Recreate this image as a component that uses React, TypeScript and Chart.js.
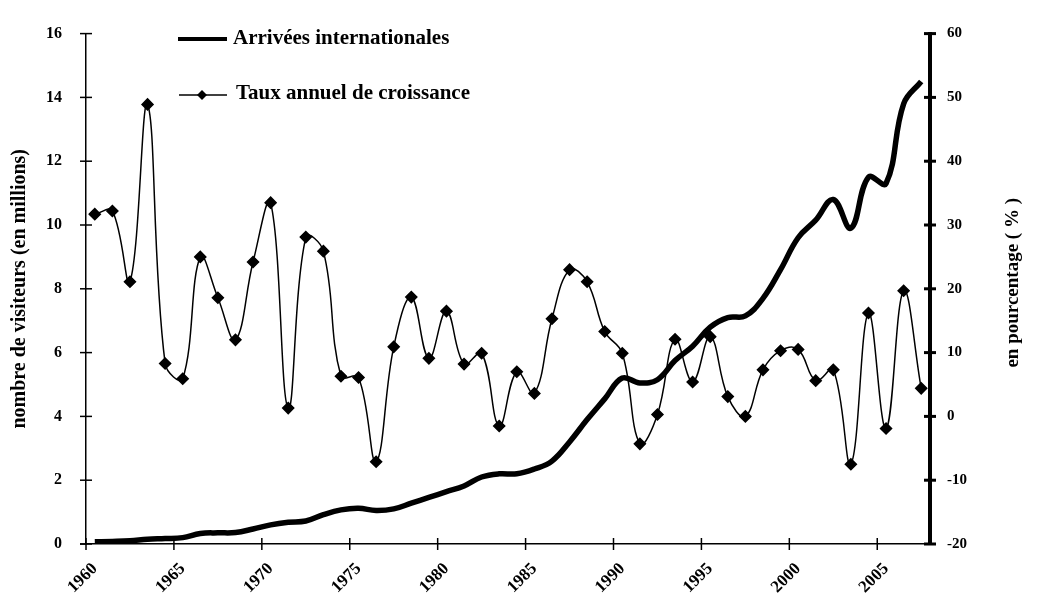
import React, { useEffect, useRef } from "react";
import { Chart, registerables } from "chart.js";

Chart.register(...registerables);

const years = [
  "1960", "1961", "1962", "1963", "1964", "1965", "1966", "1967", "1968", "1969",
  "1970", "1971", "1972", "1973", "1974", "1975", "1976", "1977", "1978", "1979",
  "1980", "1981", "1982", "1983", "1984", "1985", "1986", "1987", "1988", "1989",
  "1990", "1991", "1992", "1993", "1994", "1995", "1996", "1997", "1998", "1999",
  "2000", "2001", "2002", "2003", "2004", "2005", "2006", "2007",
];

// Arrivées internationales (millions)
const arrivals = [
  0.07, 0.08, 0.1, 0.15, 0.17, 0.2, 0.33, 0.35, 0.36, 0.47,
  0.6, 0.68, 0.72, 0.92, 1.07, 1.12, 1.05, 1.1, 1.28, 1.46,
  1.64, 1.82, 2.1, 2.2, 2.2, 2.35, 2.6, 3.2, 3.9, 4.55,
  5.2, 5.05, 5.15, 5.75, 6.2, 6.8, 7.1, 7.15, 7.7, 8.6,
  9.6, 10.15, 10.8, 9.9, 11.5, 11.3, 13.8, 14.5,
];

// Taux annuel de croissance (%)
const growth = [
  31.7, 32.2, 21.1, 48.9, 8.3, 5.9, 25.0, 18.6, 12.0, 24.2,
  33.5, 1.3, 28.1, 25.9, 6.3, 6.1, -7.1, 10.9, 18.7, 9.1,
  16.5, 8.2, 9.9, -1.5, 7.0, 3.6, 15.3, 23.0, 21.1, 13.3,
  9.9, -4.3, 0.3, 12.1, 5.4, 12.5, 3.1, 0.0, 7.3, 10.3,
  10.5, 5.6, 7.3, -7.5, 16.2, -1.9, 19.7, 4.4,
];

const leftTicks = [0, 2, 4, 6, 8, 10, 12, 14, 16];
const rightTicks = [-20, -10, 0, 10, 20, 30, 40, 50, 60];
const labelStep = 5;

const seriesNames = ["Arrivées internationales", "Taux annuel de croissance"];
const leftTitle = "nombre de visiteurs (en millions)";
const rightTitle = "en pourcentage ( % )";

const FONT = "'Liberation Serif', 'Times New Roman', serif";

const decorPlugin = {
  id: "decor",
  afterDraw(chart: any) {
    const { ctx, chartArea, scales } = chart;
    const x = scales.x;
    const y = scales.y;
    const y1 = scales.y1;
    ctx.save();
    ctx.strokeStyle = "#000";
    ctx.fillStyle = "#000";
    // left ticks (crossing)
    ctx.lineWidth = 1.5;
    leftTicks.forEach((v) => {
      const py = y.getPixelForValue(v);
      ctx.beginPath();
      ctx.moveTo(chartArea.left - 6, py);
      ctx.lineTo(chartArea.left + 6, py);
      ctx.stroke();
    });
    // x axis extends slightly left of the left axis
    ctx.beginPath();
    ctx.moveTo(chartArea.left - 6, chartArea.bottom);
    ctx.lineTo(chartArea.left, chartArea.bottom);
    ctx.stroke();
    // right ticks (crossing, thick)
    ctx.lineWidth = 3;
    rightTicks.forEach((v) => {
      const py = y1.getPixelForValue(v);
      ctx.beginPath();
      ctx.moveTo(chartArea.right - 6, py);
      ctx.lineTo(chartArea.right + 6, py);
      ctx.stroke();
    });
    // x ticks at category boundaries every 5 years
    ctx.lineWidth = 1.5;
    const half = (x.getPixelForValue(1) - x.getPixelForValue(0)) / 2;
    years.forEach((yr, i) => {
      if (Number(yr) % labelStep !== 0) return;
      const px = x.getPixelForValue(i) - half;
      ctx.beginPath();
      ctx.moveTo(px, chartArea.bottom - 6);
      ctx.lineTo(px, chartArea.bottom + 6);
      ctx.stroke();
    });

    // right axis title (reads bottom to top)
    ctx.save();
    ctx.font = `bold 19px ${FONT}`;
    ctx.textAlign = "center";
    ctx.textBaseline = "middle";
    ctx.translate(1013, (chartArea.top + chartArea.bottom) / 2 - 6);
    ctx.rotate(-Math.PI / 2);
    ctx.fillText(rightTitle, 0, 0);
    ctx.restore();

    // legend
    ctx.font = `bold 21px ${FONT}`;
    ctx.textAlign = "left";
    ctx.textBaseline = "middle";
    ctx.lineWidth = 4;
    ctx.beginPath();
    ctx.moveTo(178, 39);
    ctx.lineTo(227, 39);
    ctx.stroke();
    ctx.fillText(seriesNames[0], 233, 39);

    ctx.lineWidth = 1.5;
    ctx.beginPath();
    ctx.moveTo(179, 95);
    ctx.lineTo(227, 95);
    ctx.stroke();
    ctx.beginPath();
    ctx.moveTo(202, 90);
    ctx.lineTo(207, 95);
    ctx.lineTo(202, 100);
    ctx.lineTo(197, 95);
    ctx.closePath();
    ctx.fill();
    ctx.fillText(seriesNames[1], 236, 94);
    ctx.restore();
  },
};

export default function App() {
  const ref = useRef<HTMLCanvasElement | null>(null);

  useEffect(() => {
    if (!ref.current) return;
    const tickFont = { family: FONT, weight: "bold" as const, size: 16 };
    const chart = new Chart(ref.current, {
      type: "line",
      data: {
        labels: years,
        datasets: [
          {
            label: seriesNames[0],
            data: arrivals,
            yAxisID: "y",
            borderColor: "#000",
            backgroundColor: "#000",
            borderWidth: 5.5,
            pointRadius: 0,
            tension: 0.4,
          },
          {
            label: seriesNames[1],
            data: growth,
            yAxisID: "y1",
            borderColor: "#000",
            backgroundColor: "#000",
            borderWidth: 1.5,
            pointStyle: "rectRot",
            pointRadius: 5.5,
            pointBackgroundColor: "#000",
            pointBorderColor: "#000",
            tension: 0.4,
          },
        ],
      },
      options: {
        responsive: false,
        animation: false,
        layout: { padding: { top: 28, left: 0, right: 0, bottom: 0 } },
        plugins: {
          legend: { display: false },
          tooltip: { enabled: false },
        },
        scales: {
          x: {
            type: "category",
            offset: true,
            grid: { display: true, drawOnChartArea: false, drawTicks: false },
            border: { display: true, color: "#000", width: 1.5 },
            ticks: {
              autoSkip: false,
              minRotation: 45,
              maxRotation: 45,
              padding: 15,
              color: "#000",
              font: { family: FONT, weight: "bold" as const, size: 17 },
              callback: (_v: any, i: number) =>
                Number(years[i]) % labelStep === 0 ? years[i] : "",
            },
            afterFit: (s: any) => {
              s.height = 61;
            },
          },
          y: {
            type: "linear",
            position: "left",
            min: 0,
            max: 16,
            grid: { display: true, drawOnChartArea: false, drawTicks: false },
            border: { display: true, color: "#000", width: 1.5 },
            ticks: {
              stepSize: 2,
              padding: 24,
              color: "#000",
              font: tickFont,
            },
            title: {
              display: true,
              text: leftTitle,
              color: "#000",
              font: { family: FONT, weight: "bold", size: 20, lineHeight: 1.2 },
              padding: { top: 8, bottom: 0 },
            },
            afterFit: (s: any) => {
              s.width = 86;
            },
          },
          y1: {
            type: "linear",
            position: "right",
            min: -20,
            max: 60,
            grid: { display: true, drawOnChartArea: false, drawTicks: false },
            border: { display: true, color: "#000", width: 4 },
            ticks: {
              stepSize: 10,
              padding: 17,
              color: "#000",
              font: { family: FONT, weight: "bold" as const, size: 15 },
            },
            afterFit: (s: any) => {
              s.width = 116;
            },
          },
        },
      },
      plugins: [decorPlugin],
    });
    return () => chart.destroy();
  }, []);

  return (
    <div style={{ position: "fixed", left: 0, top: 0, width: 1046, height: 605, background: "#fff" }}>
      <canvas ref={ref} width={1046} height={605} style={{ display: "block" }} />
    </div>
  );
}
